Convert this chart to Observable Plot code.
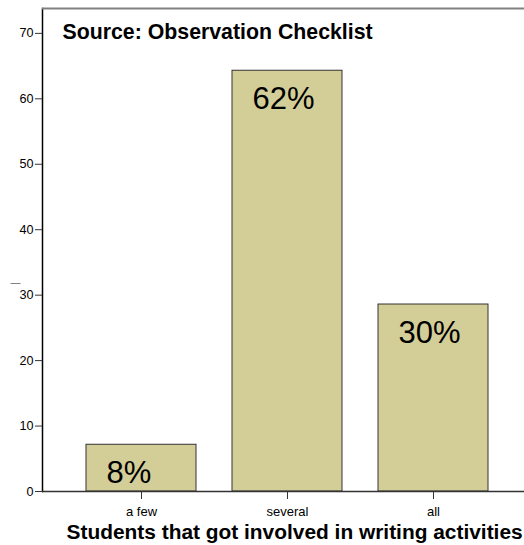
<!DOCTYPE html>
<html>
<head>
<meta charset="utf-8">
<script src="https://cdn.jsdelivr.net/npm/d3@7"></script>
<script src="https://cdn.jsdelivr.net/npm/@observablehq/plot@0.6"></script>
<style>
  html, body { margin: 0; padding: 0; background: #fff; }
  svg { display: block; }
  svg g[aria-label="y-axis tick label"] { font-size: 12.6px; }
  svg g[aria-label="x-axis tick label"] { font-size: 13px; }
</style>
</head>
<body>
<div id="chart"></div>
<script>
const categories = ["a few", "several", "all"];
const values = [7.14, 64.29, 28.57];
const percentLabels = ["8%", "62%", "30%"];
const yTicks = [0, 10, 20, 30, 40, 50, 60, 70];
const chartTitle = "Source: Observation Checklist";
const xTitle = "Students that got involved in writing activities";
const yTitle = "—";

const data = categories.map((c, i) => ({category: c, value: values[i], label: percentLabels[i]}));

const chart = Plot.plot({
  width: 524,
  height: 545,
  marginLeft: 42,
  marginRight: 0,
  marginTop: 8,
  marginBottom: 54,
  style: {fontFamily: "'Liberation Sans', Arial, sans-serif", fontSize: "13px", background: "#fff", color: "#000"},
  x: {domain: categories, range: [66.75, 506.25], paddingInner: 0.25, paddingOuter: 0.125, label: null},
  y: {domain: [0, 73.8], label: null},
  marks: [
    Plot.frame({anchor: "left", stroke: "#000", strokeWidth: 1.5}),
    Plot.ruleY([73.8], {stroke: "#808080", strokeWidth: 2}),
    Plot.barY(data, {x: "category", y: "value", fill: "#d3ce98", stroke: "#333", strokeWidth: 1}),
    Plot.ruleY([0], {stroke: "#333", strokeWidth: 1.5}),
    Plot.axisY({ticks: yTicks, tickSize: 7, tickPadding: 2, fontSize: 12.6, label: null, stroke: "#333"}),
    Plot.axisX({tickSize: 8, tickPadding: 7, fontSize: 13, label: null, stroke: "#333"}),
    Plot.text(data, {x: "category", y: "value", text: "label", dx: -35, dy: 16, textAnchor: "start", lineAnchor: "top", fontSize: 31, fill: "#000"}),
    Plot.text([chartTitle], {text: d => d, frameAnchor: "top-left", dx: 20, dy: 30, textAnchor: "start", lineAnchor: "bottom", fontSize: 21.3, fontWeight: "bold", fill: "#000"}),
    Plot.text([xTitle], {text: d => d, frameAnchor: "bottom-left", dx: 24, dy: 47, textAnchor: "start", lineAnchor: "bottom", fontSize: 20.9, fontWeight: "bold", fill: "#000"}),
    Plot.text([yTitle], {text: d => d, frameAnchor: "left", dx: -27, dy: 33, textAnchor: "middle", fontSize: 10, fill: "#666"})
  ]
});
document.getElementById("chart").appendChild(chart);
</script>
</body>
</html>
